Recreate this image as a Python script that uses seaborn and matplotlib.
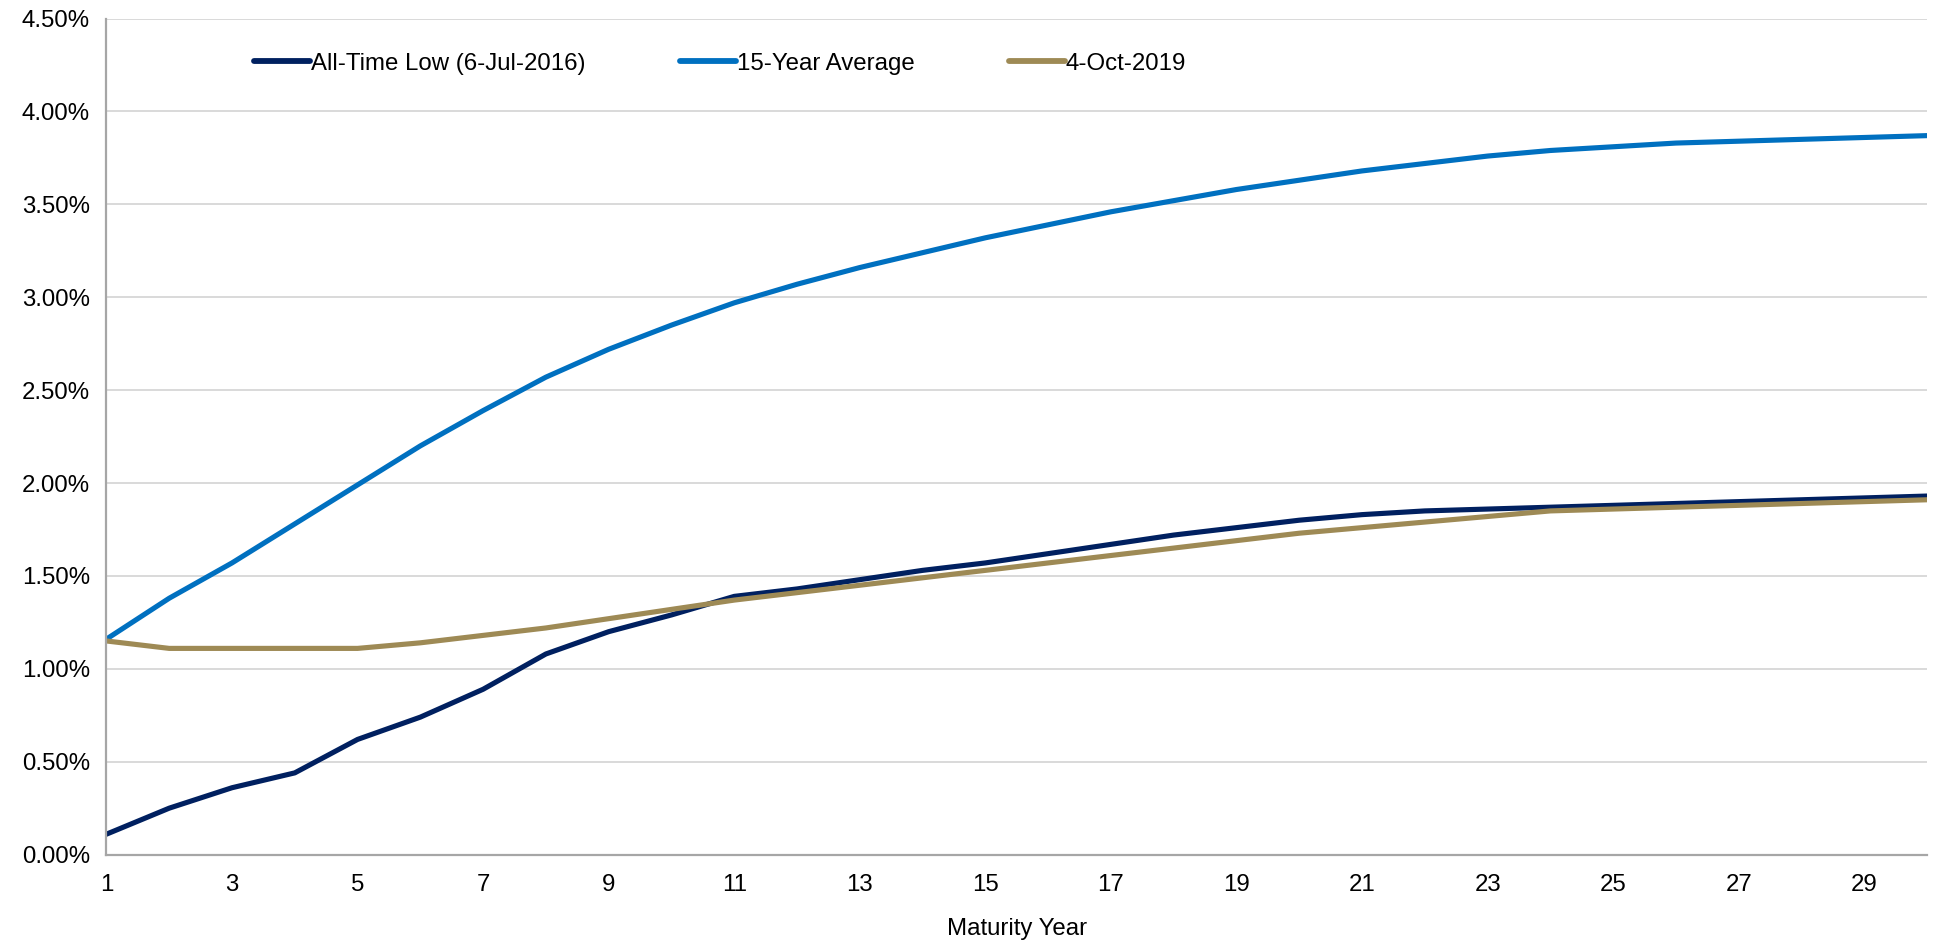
import numpy as np
import pandas as pd
import seaborn as sns
import matplotlib.pyplot as plt
from matplotlib.ticker import FuncFormatter, MultipleLocator

# maturity years 1..30
years = list(range(1, 31))

all_time_low = [0.11, 0.25, 0.36, 0.44, 0.62, 0.74, 0.89, 1.08, 1.20, 1.29,
                1.39, 1.43, 1.48, 1.53, 1.57, 1.62, 1.67, 1.72, 1.76, 1.80,
                1.83, 1.85, 1.86, 1.87, 1.88, 1.89, 1.90, 1.91, 1.92, 1.93]

avg_15y = [1.16, 1.38, 1.57, 1.78, 1.99, 2.20, 2.39, 2.57, 2.72, 2.85,
           2.97, 3.07, 3.16, 3.24, 3.32, 3.39, 3.46, 3.52, 3.58, 3.63,
           3.68, 3.72, 3.76, 3.79, 3.81, 3.83, 3.84, 3.85, 3.86, 3.87]

oct_2019 = [1.15, 1.11, 1.11, 1.11, 1.11, 1.14, 1.18, 1.22, 1.27, 1.32,
            1.37, 1.41, 1.45, 1.49, 1.53, 1.57, 1.61, 1.65, 1.69, 1.73,
            1.76, 1.79, 1.82, 1.85, 1.86, 1.87, 1.88, 1.89, 1.90, 1.91]

labels = ['All-Time Low (6-Jul-2016)', '15-Year Average', '4-Oct-2019']
colors = ['#002060', '#0070C0', '#9E8A55']

df = pd.DataFrame({
    'year': years * 3,
    'rate': all_time_low + avg_15y + oct_2019,
    'curve': [labels[0]] * 30 + [labels[1]] * 30 + [labels[2]] * 30,
})

sns.set_style('white')
plt.rcParams['font.family'] = ['Liberation Sans', 'DejaVu Sans']
plt.rcParams['text.color'] = 'black'
plt.rcParams['axes.labelcolor'] = 'black'

fig = plt.figure(figsize=(19.42, 9.48), dpi=100)
ax = fig.add_axes([0.0548, 0.0985, 0.9375, 0.8819])

sns.lineplot(data=df, x='year', y='rate', hue='curve', hue_order=labels,
             palette=dict(zip(labels, colors)), linewidth=3.7, ax=ax)

ax.set_xlim(1, 30)
ax.set_ylim(0, 4.5)
ax.yaxis.set_major_locator(MultipleLocator(0.5))
ax.yaxis.set_major_formatter(FuncFormatter(lambda v, p: f'{v:.2f}%'))
ax.set_xticks(range(1, 30, 2))
ax.set_xticks(range(2, 31, 2), minor=True)
ax.grid(axis='y', color='#D9D9D9', linewidth=1.4)
ax.set_axisbelow(True)

for side in ['top', 'right']:
    ax.spines[side].set_visible(False)
for side in ['left', 'bottom']:
    ax.spines[side].set_color('#A6A6A6')
    ax.spines[side].set_linewidth(1.6)

ax.tick_params(axis='both', which='both', direction='out', color='#A6A6A6',
               width=1.4, labelsize=17.3, labelcolor='black')
ax.tick_params(axis='y', length=6, pad=6)
ax.tick_params(axis='x', which='both', length=7, pad=7)

ax.set_xlabel('Maturity Year', fontsize=17.3, labelpad=16)
ax.set_ylabel('')

leg = ax.legend(loc='center left', bbox_to_anchor=(0.076, 0.946), ncol=3,
                frameon=False, fontsize=17.3, handlelength=2.3,
                handletextpad=0.05, columnspacing=3.95, borderaxespad=0)
for line in leg.get_lines():
    line.set_linewidth(4.2)

fig.savefig('out.png', dpi=100)
